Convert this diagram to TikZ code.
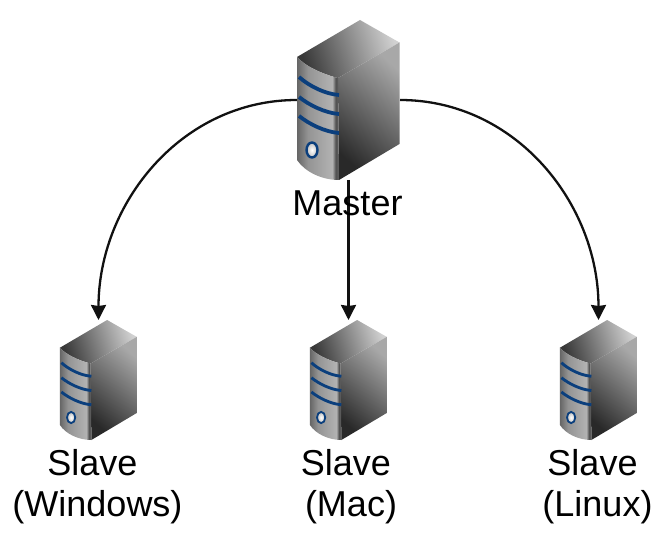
\documentclass[tikz,border=0pt]{standalone}
\usepackage{fontspec}
\setmainfont{Liberation Sans}
\usetikzlibrary{arrows.meta,positioning}
\definecolor{stripeblue}{HTML}{0B3F7D}
\definecolor{arrowblack}{HTML}{111111}
\pgfdeclarehorizontalshading{frontshade}{100bp}{color(0bp)=(black!60);color(25bp)=(black!60);color(38bp)=(black!42);color(67bp)=(black!30);color(71bp)=(black!68);color(75bp)=(black!62);color(100bp)=(black!62)}
\tikzset{
  srvbox/.style={inner sep=0pt, outer sep=0pt, minimum width=#1*103pt, minimum height=#1*160pt},
  lab/.style={font=\fontsize{36}{41}\selectfont, align=center, inner sep=0pt},
  arr/.style={-{Stealth[length=15pt,width=15pt,inset=1pt]}, line width=2.3pt, draw=arrowblack},
  stripe/.style={draw=stripeblue, line width=3.8pt*\srvsize},
  pics/server/.style={code={
    \def\srvsize{#1}
    \begin{scope}[xscale=#1,yscale=-#1]
      \shade[top color=black!18, bottom color=black!78, shading angle=-72] (63,0) -- (102.5,22.5) -- (41,58) .. controls (25,54) and (8,46) .. (0,37) -- cycle;
      \shade[top color=black!34, bottom color=black!84, shading angle=-42] (102.5,22.5) -- (102.5,124) -- (42,160) -- (41,58) -- cycle;
      \shade[shading=frontshade] (0,37) .. controls (8,46) and (25,54) .. (41,58) -- (42,160) .. controls (25,160) and (8,152) .. (0,140) -- cycle;
      \draw[stripe] (2,57) .. controls (12,66) and (28,74) .. (42,75);
      \draw[stripe] (2,77) .. controls (12,85) and (28,93) .. (42,94);
      \draw[stripe] (2,96) .. controls (12,104) and (28,112) .. (42,113);
      \shade[inner color=white, outer color=black!25, draw=stripeblue, line width=2.4pt*#1] (15,130) ellipse (5.5 and 7.5);
    \end{scope}
  }},
}
\begin{document}
\begin{tikzpicture}[x=1pt,y=1pt]
  \useasboundingbox (0,0) rectangle (672,544);
  \node[srvbox=1] (master) at (348.5,444) {};
  \foreach \nm/\x in {win/98.5,mac/348.5,lin/598.5} {
    \node[srvbox=0.75] (\nm) at (\x,164) {};
  }
  \draw[arr] (master.west) to[out=180,in=90] (win.north);
  \draw[arr] (master.south) -- (mac.north);
  \draw[arr] (master.east) to[out=0,in=90] (lin.north);
  \pic at (master.north west) {server=1};
  \foreach \nm in {win,mac,lin} {
    \pic at (\nm.north west) {server=0.75};
  }
  \node[lab] (masterlab) at (347.5,341) {Master};
  \node[lab] (winlab) at (97.5,57) {Slave\kern10pt\\(Windows)};
  \node[lab] (maclab) at (351,57) {Slave\kern10pt\\(Mac)};
  \node[lab] (linlab) at (597.5,57) {Slave\kern10pt\\(Linux)};
\end{tikzpicture}
\end{document}
